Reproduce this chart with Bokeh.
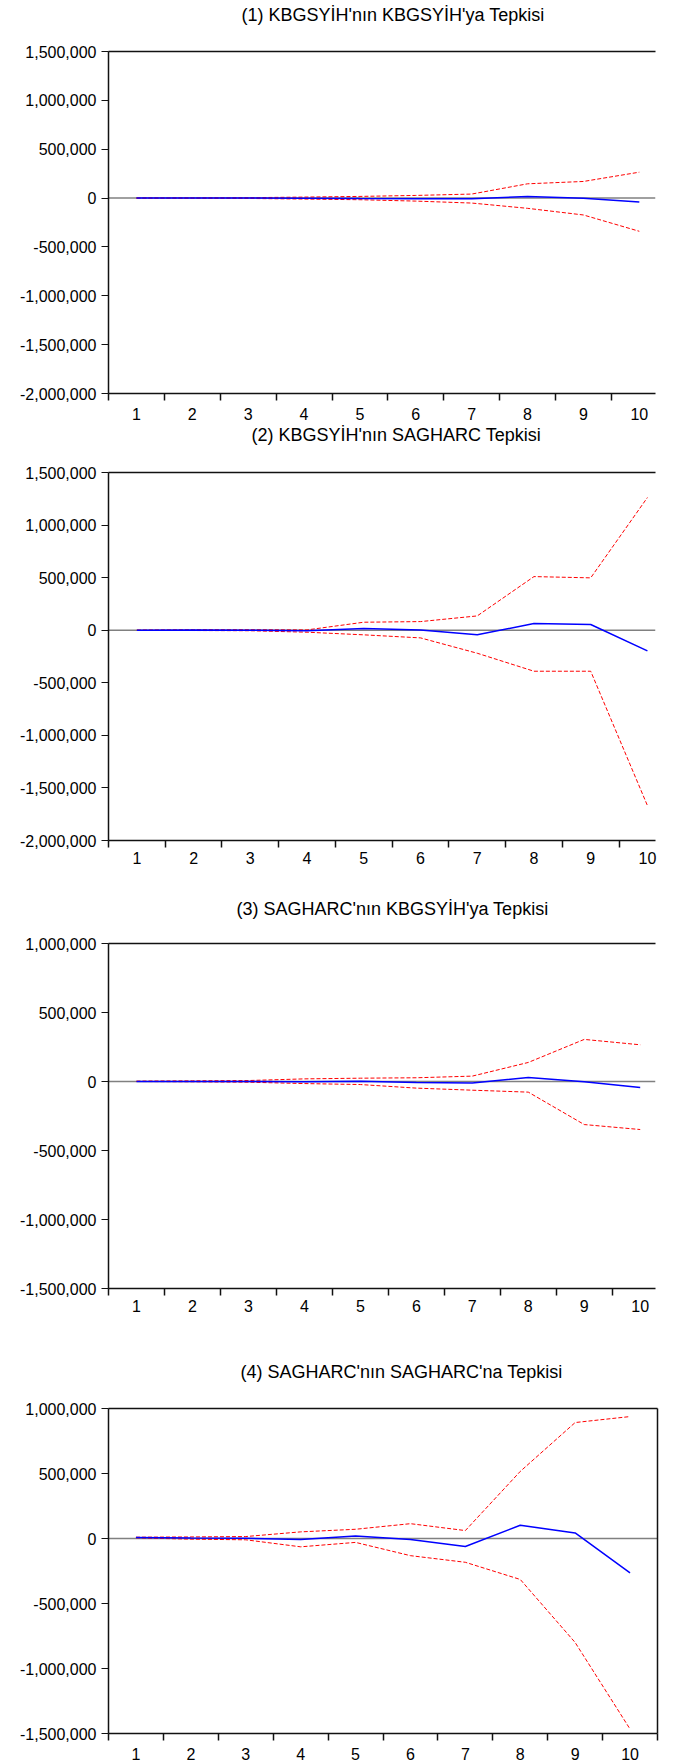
from bokeh.plotting import figure
from bokeh.layouts import column
from bokeh.models import Range1d, FixedTicker, NumeralTickFormatter, LinearAxis, Span
from bokeh.embed import file_html
from bokeh.resources import INLINE

# ---------------- data ----------------
periods = [1, 2, 3, 4, 5, 6, 7, 8, 9, 10]

titles = [
    "(1) KBGSYİH'nın KBGSYİH'ya Tepkisi",
    "(2) KBGSYİH'nın SAGHARC Tepkisi",
    "(3) SAGHARC'nın KBGSYİH'ya Tepkisi",
    "(4) SAGHARC'nın SAGHARC'na Tepkisi",
]

p1_resp = [0, 0, 0, -2000, -5000, -6000, -7000, 17000, -2000, -41000]
p1_upper = [0, 2000, 4000, 10000, 17000, 27000, 41000, 146000, 170000, 265000]
p1_lower = [0, -2000, -4000, -10000, -17000, -31000, -51000, -105000, -173000, -340000]

p2_resp = [0, 1000, 0, -6000, 16000, 3000, -44000, 63000, 54000, -197000]
p2_upper = [0, 5000, 5000, 3000, 76000, 82000, 136000, 510000, 498000, 1262000]
p2_lower = [0, -3000, -5000, -19000, -44000, -73000, -219000, -390000, -390000, -1668000]

p3_resp = [0, 0, 0, -2000, 2000, -7000, -10000, 29000, -2000, -44000]
p3_upper = [3000, 5000, 7000, 19000, 24000, 27000, 39000, 138000, 305000, 266000]
p3_lower = [0, -2000, -5000, -15000, -22000, -48000, -63000, -77000, -312000, -348000]

p4_resp = [7000, 3000, 2000, -8000, 20000, -8000, -61000, 102000, 43000, -264000]
p4_upper = [10000, 12000, 15000, 51000, 71000, 114000, 61000, 516000, 892000, 938000]
p4_lower = [5000, -5000, -10000, -64000, -30000, -132000, -183000, -315000, -800000, -1466000]

y_ticks_a = [-2000000, -1500000, -1000000, -500000, 0, 500000, 1000000, 1500000]
y_ticks_b = [-1500000, -1000000, -500000, 0, 500000, 1000000]

FONT = "Liberation Sans"
FRAME = "#111111"


def make_title(title, fig_h, b_top, b_left, frame_w, b_right, t_offset):
    t = figure(width=b_left + frame_w + b_right, height=fig_h,
               output_backend="svg", toolbar_location=None,
               x_range=Range1d(0, 1), y_range=Range1d(0, 1),
               x_axis_location=None, y_axis_location=None,
               min_border_left=b_left, min_border_right=b_right,
               min_border_top=b_top, min_border_bottom=0,
               background_fill_color="white", border_fill_color="white")
    t.outline_line_color = None
    t.xgrid.visible = False
    t.ygrid.visible = False
    t.title.text = title
    t.title.align = "left"
    t.title.offset = t_offset
    t.title.standoff = 0
    t.title.vertical_align = "bottom"
    t.title.text_font = FONT
    t.title.text_font_size = "18px"
    t.title.text_font_style = "normal"
    t.title.text_color = "black"
    return t


def make_panel(resp, upper, lower, y_range, y_ticks, fig_h, b_top, b_left,
               frame_w, b_right, b_bottom, x_end, x_standoff, right_border=False):
    p = figure(width=b_left + frame_w + b_right, height=fig_h,
               output_backend="svg", toolbar_location=None,
               x_range=Range1d(0.5, x_end), y_range=Range1d(*y_range),
               min_border_left=b_left, min_border_right=b_right,
               min_border_top=b_top, min_border_bottom=b_bottom,
               background_fill_color="white", border_fill_color="white")
    p.outline_line_color = None
    p.xgrid.visible = False
    p.ygrid.visible = False

    xa = p.below[0]
    ya = p.left[0]

    # x axis (bottom): ticks between periods, labels at periods
    xa.ticker = FixedTicker(ticks=periods, minor_ticks=[k - 0.5 for k in periods] + [10.5])
    xa.major_tick_out = 0
    xa.major_tick_in = 0
    xa.minor_tick_out = 7
    xa.minor_tick_in = 0
    xa.minor_tick_line_color = FRAME
    xa.minor_tick_line_width = 1.5
    xa.axis_line_color = FRAME
    xa.axis_line_width = 1.5
    xa.major_label_standoff = x_standoff
    xa.major_label_text_font = FONT
    xa.major_label_text_font_size = "16px"
    xa.major_label_text_color = "black"

    # y axis (left)
    ya.ticker = FixedTicker(ticks=y_ticks)
    ya.formatter = NumeralTickFormatter(format="0,0")
    ya.major_tick_out = 7
    ya.major_tick_in = 0
    ya.minor_tick_out = 0
    ya.minor_tick_in = 0
    ya.major_tick_line_color = FRAME
    ya.major_tick_line_width = 1
    ya.axis_line_color = FRAME
    ya.axis_line_width = 1.5
    ya.major_label_standoff = 5
    ya.major_label_text_font = FONT
    ya.major_label_text_font_size = "16px"
    ya.major_label_text_color = "black"

    # top border line
    top = LinearAxis(ticker=FixedTicker(ticks=[], minor_ticks=[]), major_tick_out=0,
                     major_tick_in=0, minor_tick_out=0, minor_tick_in=0,
                     major_label_standoff=0, major_label_text_font_size="0px",
                     axis_line_color=FRAME, axis_line_width=1.5)
    p.add_layout(top, "above")

    if right_border:
        r = LinearAxis(ticker=FixedTicker(ticks=[], minor_ticks=[]), major_tick_out=0,
                       major_tick_in=0, minor_tick_out=0, minor_tick_in=0,
                       major_label_standoff=0, major_label_text_font_size="0px",
                       axis_line_color=FRAME, axis_line_width=1.5)
        p.add_layout(r, "right")

    p.add_layout(Span(location=0, dimension="width", line_color="#808080",
                      line_width=1.5, level="underlay"))

    p.line(periods, upper, line_color="#FF0000", line_width=1, line_dash="4 2")
    p.line(periods, lower, line_color="#FF0000", line_width=1, line_dash="4 2")
    p.line(periods, resp, line_color="#0000FF", line_width=1.5)
    return p


t1 = make_title(titles[0], 30, 24, 99, 558, 0, 133)
f1 = make_panel(p1_resp, p1_upper, p1_lower, (-2000000, 1500000), y_ticks_a,
                392, 21, 99, 558, 0, 28, 0.5 + 558 / 57.0, 7)

t2 = make_title(titles[1], 28, 21, 91, 566, 0, 143)
f2 = make_panel(p2_resp, p2_upper, p2_lower, (-2000000, 1500000), y_ticks_a,
                430, 22, 91, 566, 0, 40, 0.5 + 566 / 58.7, 4)

t3 = make_title(titles[2], 42, 38, 97, 560, 0, 128)
f3 = make_panel(p3_resp, p3_upper, p3_lower, (-1500000, 1000000), y_ticks_b,
                408, 21, 97, 560, 0, 42, 0.5 + 560 / 57.3, 4)

t4 = make_title(titles[3], 55, 51, 108, 549, 2, 132)
f4 = make_panel(p4_resp, p4_upper, p4_lower, (-1500000, 1000000), y_ticks_b,
                377, 23, 108, 549, 2, 26, 10.5, 7, right_border=True)

layout = column(t1, f1, t2, f2, t3, f3, t4, f4, spacing=0)

open("out.html", "w").write(file_html(layout, INLINE))
